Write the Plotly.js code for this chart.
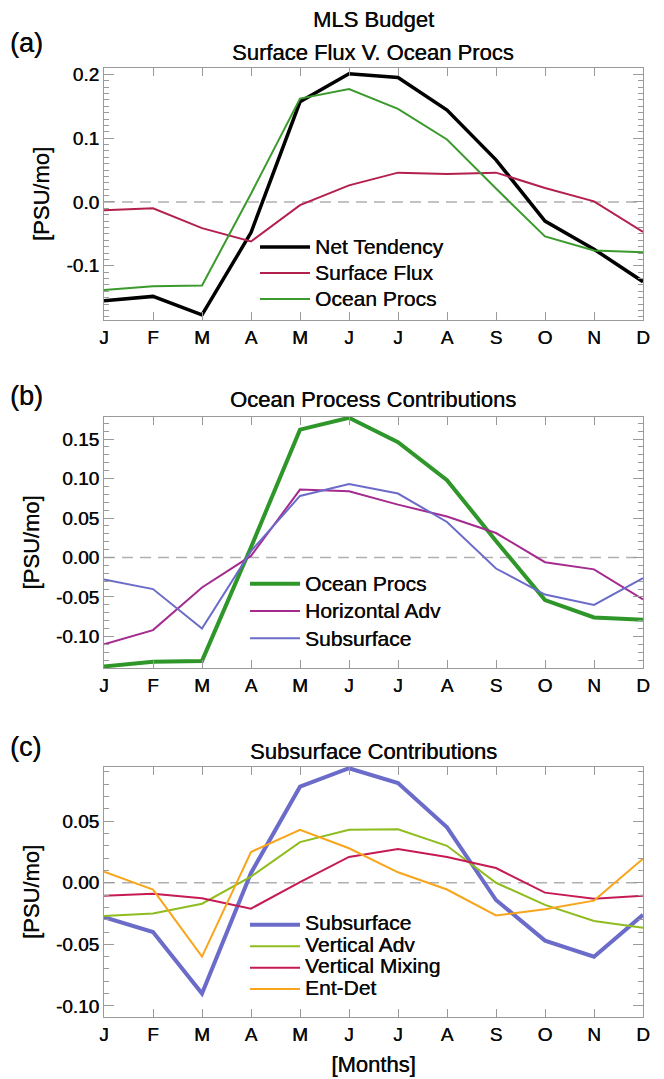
<!DOCTYPE html>
<html>
<head>
<meta charset="utf-8">
<script src="https://cdn.plot.ly/plotly-3.0.1.min.js"></script>
<style>
  html, body { margin: 0; padding: 0; background: #ffffff; }
  #chart { width: 664px; height: 1079px; }
</style>
</head>
<body>
<div id="chart"></div>
<script>
// Months along the x axis
const monthNum = [1, 2, 3, 4, 5, 6, 7, 8, 9, 10, 11, 12];
const monthLabels = ['J', 'F', 'M', 'A', 'M', 'J', 'J', 'A', 'S', 'O', 'N', 'D'];

// (a) MLS budget: surface flux vs ocean processes [PSU/mo]
const netTendency = [-0.155, -0.148, -0.177, -0.048, 0.157, 0.201, 0.195, 0.144, 0.066, -0.030, -0.074, -0.125];
const surfaceFlux = [-0.013, -0.010, -0.041, -0.062, -0.005, 0.026, 0.046, 0.044, 0.046, 0.022, 0.001, -0.047];
const oceanProcs  = [-0.138, -0.132, -0.131, 0.013, 0.162, 0.177, 0.146, 0.098, 0.021, -0.054, -0.076, -0.079];

// (b) ocean process contributions [PSU/mo]
const horizontalAdv = [-0.110, -0.092, -0.038, 0.002, 0.086, 0.084, 0.067, 0.052, 0.031, -0.006, -0.015, -0.053];
const subsurface    = [-0.028, -0.040, -0.090, 0.008, 0.078, 0.093, 0.081, 0.045, -0.014, -0.047, -0.060, -0.026];

// (c) subsurface contributions [PSU/mo]
const verticalAdv    = [-0.027, -0.025, -0.017, 0.005, 0.033, 0.043, 0.0435, 0.030, 0.000, -0.018, -0.031, -0.0365];
const verticalMixing = [-0.0105, -0.009, -0.0125, -0.021, 0.0005, 0.021, 0.0275, 0.021, 0.012, -0.008, -0.013, -0.0105];
const entDet         = [0.009, -0.0055, -0.060, 0.025, 0.043, 0.028, 0.0085, -0.0055, -0.0265, -0.0215, -0.0145, 0.0195];

// y tick values and labels per panel
const yTicksA = [-0.1, 0, 0.1, 0.2];
const yTickTextA = ['-0.1', '0.0', '0.1', '0.2'];
const yTicksB = [-0.10, -0.05, 0, 0.05, 0.10, 0.15];
const yTickTextB = ['-0.10', '-0.05', '0.00', '0.05', '0.10', '0.15'];
const yTicksC = [-0.10, -0.05, 0, 0.05];
const yTickTextC = ['-0.10', '-0.05', '0.00', '0.05'];

const W = 664, H = 1079;
const fx = px => px / W;
const fy = px => 1 - px / H;

const FONT = "'Liberation Sans', Arial, Helvetica, sans-serif";
const FRAME = '#9a9a9a';
const TXT = '#0a0a0a';
const HEAVY = '0.35px 0 0 #0a0a0a';   // slightly heavier strokes for all text
const LEGEND_TEXT = 21;

const font = size => ({ family: FONT, size: size, color: TXT, shadow: HEAVY });

// legend entries keep a tight row pitch (set by legend font size)
// while the label itself is drawn at the larger size
const label = name => '<span style="font-size:' + LEGEND_TEXT + 'px">' + name + '</span>';

function line(y, name, color, width, xa, ya, legend) {
  return {
    type: 'scatter', mode: 'lines', x: monthNum, y: y, name: label(name),
    xaxis: xa, yaxis: ya, legend: legend,
    line: { color: color, width: width },
    hoverinfo: 'skip'
  };
}

const traces = [
  line(netTendency, 'Net Tendency', '#000000', 3.5, 'x', 'y', 'legend'),
  line(surfaceFlux, 'Surface Flux', '#b3204d', 2, 'x', 'y', 'legend'),
  line(oceanProcs, 'Ocean Procs', '#3a9a2c', 2, 'x', 'y', 'legend'),

  line(oceanProcs, 'Ocean Procs', '#2f962a', 4, 'x2', 'y2', 'legend2'),
  line(horizontalAdv, 'Horizontal Adv', '#a42a8e', 2, 'x2', 'y2', 'legend2'),
  line(subsurface, 'Subsurface', '#6b6bc9', 2, 'x2', 'y2', 'legend2'),

  line(subsurface, 'Subsurface', '#6b6bc9', 4, 'x3', 'y3', 'legend3'),
  line(verticalAdv, 'Vertical Adv', '#8fbc1e', 2, 'x3', 'y3', 'legend3'),
  line(verticalMixing, 'Vertical Mixing', '#c61b52', 2, 'x3', 'y3', 'legend3'),
  line(entDet, 'Ent-Det', '#f8a51c', 2, 'x3', 'y3', 'legend3')
];

const xDomain = [fx(104), fx(643)];

function xAxis(anchor, extra) {
  return Object.assign({
    domain: xDomain, anchor: anchor, range: [1, 12],
    tickmode: 'array', tickvals: monthNum, ticktext: monthLabels,
    ticks: 'inside', ticklen: 8, tickwidth: 1, tickcolor: FRAME,
    showline: true, linecolor: FRAME, linewidth: 1, mirror: 'allticks',
    showgrid: false, zeroline: false,
    tickfont: font(19)
  }, extra || {});
}

function yAxis(top, bottom, anchor, range, vals, text) {
  return {
    domain: [fy(bottom), fy(top)], anchor: anchor, range: range,
    tickmode: 'array', tickvals: vals, ticktext: text,
    ticks: 'inside', ticklen: 10, tickwidth: 1, tickcolor: FRAME,
    minor: { tickmode: 'linear', tick0: 0, dtick: 0.01, ticks: 'inside', ticklen: 5, tickcolor: FRAME, tickwidth: 1, showgrid: false },
    showline: true, linecolor: FRAME, linewidth: 1, mirror: 'allticks',
    showgrid: false, zeroline: false,
    tickfont: font(19),
    title: { text: '[PSU/mo]', font: font(22), standoff: 10 }
  };
}

const panels = {
  a: { top: 68, bottom: 320 },
  b: { top: 417, bottom: 668 },
  c: { top: 767, bottom: 1017 }
};

function zeroLine(xa, ya) {
  return {
    type: 'line', xref: xa + ' domain', yref: ya, x0: 0, x1: 1, y0: 0, y1: 0,
    line: { color: '#b0b0b0', width: 1.5, dash: '11px,7px' }, layer: 'below'
  };
}

function ann(text, xpx, ypx, size, anchor) {
  return {
    text: text, xref: 'paper', yref: 'paper', x: fx(xpx), y: fy(ypx),
    xanchor: anchor || 'center', yanchor: 'middle', showarrow: false,
    font: font(size)
  };
}

function legendBox(xpx, ypx, rowFont) {
  return {
    x: fx(xpx), y: fy(ypx), xanchor: 'left', yanchor: 'top',
    bgcolor: 'rgba(255,255,255,0)', borderwidth: 0, itemwidth: 50,
    font: font(rowFont), traceorder: 'normal'
  };
}

const layout = {
  width: W, height: H,
  margin: { l: 0, r: 0, t: 0, b: 0 },
  paper_bgcolor: '#ffffff', plot_bgcolor: '#ffffff',
  showlegend: true,
  xaxis: xAxis('y'),
  yaxis: yAxis(panels.a.top, panels.a.bottom, 'x', [-0.185, 0.21], yTicksA, yTickTextA),
  xaxis2: xAxis('y2'),
  yaxis2: yAxis(panels.b.top, panels.b.bottom, 'x2', [-0.140, 0.178], yTicksB, yTickTextB),
  xaxis3: xAxis('y3', {
    title: { text: '[Months]', font: font(22), standoff: 12 }
  }),
  yaxis3: yAxis(panels.c.top, panels.c.bottom, 'x3', [-0.109, 0.094], yTicksC, yTickTextC),
  legend: legendBox(255, 229, 17.7),
  legend2: legendBox(245, 565, 18.7),
  legend3: legendBox(245, 909, 14.2),
  shapes: [zeroLine('x', 'y'), zeroLine('x2', 'y2'), zeroLine('x3', 'y3')],
  annotations: [
    ann('MLS Budget', 373, 20, 22),
    ann('Surface Flux V. Ocean Procs', 373, 52, 22),
    ann('(a)', 8, 43, 27, 'left'),
    ann('Ocean Process Contributions', 373, 400, 22),
    ann('(b)', 8, 396, 27, 'left'),
    ann('Subsurface Contributions', 373, 751, 22),
    ann('(c)', 8, 747, 27, 'left')
  ]
};

Plotly.newPlot('chart', traces, layout, { staticPlot: true, displayModeBar: false });
</script>
</body>
</html>
